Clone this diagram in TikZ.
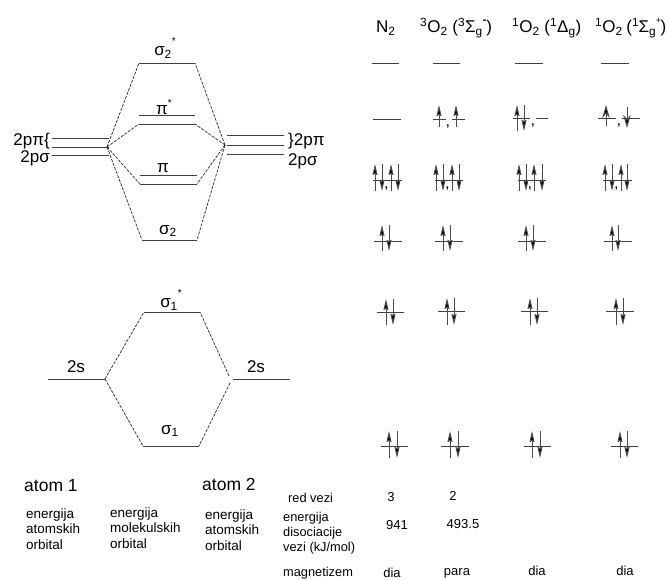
\documentclass[tikz,border=0pt]{standalone}
\usepackage{fontspec}
\setmainfont{Liberation Sans}
\usetikzlibrary{arrows.meta}
\definecolor{lv}{gray}{0.25}
\newcommand{\fs}[1]{\fontsize{#1}{#1}\selectfont}
\newcommand{\sbs}[1]{\textsubscript{#1}}
\newcommand{\sps}[1]{\textsuperscript{#1}}
\tikzset{
  x=1pt,y=-1pt,
  lvline/.style={draw=lv,line width=1pt},
  linkline/.style={draw=black!85,line width=.7pt,dash pattern=on 3pt off 1.3pt},
  spin/.style={draw=black!70,line width=1pt,-{Stealth[length=11pt,width=5pt,inset=1pt,fill=black]}},
  spinbig/.style={draw=black!70,line width=1pt,-{Stealth[length=13pt,width=7.5pt,fill=black]}},
  labtext/.style={inner sep=0pt,font=\fs{17}},
  multi/.style={inner sep=0pt,anchor=west,align=left,font=\fontsize{13.5}{15.8}\selectfont},
  multismall/.style={inner sep=0pt,anchor=west,align=left,font=\fontsize{12.8}{15}\selectfont},
  txtnode/.style={inner sep=0pt,font=\fs{12.8},anchor=west},
  valtext/.style={inner sep=0pt,font=\fs{13}},
  bigtext/.style={inner sep=0pt,font=\fs{17.5},anchor=west},
  headtext/.style={inner sep=0pt,font=\fs{17},anchor=west},
  commark/.style={inner sep=0pt,font=\bfseries\fs{11}}
}
% level: name, x1, x2, y
\newcommand{\lvl}[4]{\coordinate (#1l) at (#2,#4);\coordinate (#1r) at (#3,#4);\draw[lvline] (#1l) -- (#1r);}
% pair of arrows on a level: up x, down x, y top, y bottom
\newcommand{\pairud}[5]{%
 \coordinate (#1ua) at (#2,#5);\coordinate (#1ub) at (#2,#4);
 \coordinate (#1da) at (#3,#4);\coordinate (#1db) at (#3,#5);
 \draw[spin] (#1ua) -- (#1ub);\draw[spin] (#1da) -- (#1db);}
\newcommand{\rowthree}[7]{% name,x1,x2,u1,d1,u2,d2 at y=180
 \lvl{#1}{#2}{#3}{180}\pairud{#1a}{#4}{#5}{164}{191}\pairud{#1b}{#6}{#7}{164}{191}
 \node[commark] (#1c) at ({(#5+#6)/2},189) {,};}
\begin{document}
\begin{tikzpicture}
\useasboundingbox (0,0) rectangle (669,579);
% MO diagram upper
\lvl{ss}{139}{195}{63}
\lvl{pa}{139}{195}{115}
\lvl{pb}{139}{195}{124}
\lvl{pc}{140}{197}{175}
\lvl{pd}{140}{197}{184}
\lvl{sb}{142}{197}{240}
\lvl{la}{52}{109}{138}
\lvl{lb}{52}{109}{147}
\lvl{lc}{52}{109}{155}
\lvl{ra}{227}{284}{135}
\lvl{rb}{227}{284}{145}
\lvl{rc}{227}{284}{154}
\coordinate (lh) at (107,147);
\coordinate (rh) at (225,145);
\draw[linkline] (lh) -- (ssl);
\draw[linkline] (rh) -- (ssr);
\draw[linkline] (lh) -- (pbl);
\draw[linkline] (rh) -- (pbr);
\draw[linkline] (lh) -- (pdl);
\draw[linkline] (rh) -- (pdr);
\draw[linkline] (lh) -- (sbl);
\draw[linkline] (rh) -- (sbr);
\node[labtext] (tss) at (165,48) {σ\sbs{2}\raisebox{.65em}{\fs{10}*}};
\node[labtext] (tpa) at (164,107) {π\raisebox{.45em}{\fs{10}*}};
\node[labtext] (tpc) at (163,168) {π};
\node[labtext] (tsb) at (168,231) {σ\sbs{2}};
\node[inner sep=0pt,font=\fs{17},anchor=east] (t2l) at (50,141) {2pπ\{};
\node[inner sep=0pt,font=\fs{17},anchor=east] (t2s) at (50,158) {2pσ};
\node[inner sep=0pt,font=\fs{17},anchor=west] (t2r) at (288,141) {\}2pπ};
\node[inner sep=0pt,font=\fs{17},anchor=west] (t2q) at (288,161) {2pσ};
% MO diagram lower
\lvl{sa}{144}{200}{312}
\lvl{so}{143}{199}{446}
\lvl{ls}{48}{105}{379}
\lvl{rs}{233}{290}{379}
\coordinate (rsu) at (229,376);
\coordinate (rsd) at (230,383);
\draw[linkline] (lsr) -- (sal);
\draw[linkline] (lsr) -- (sol);
\draw[linkline] (rsu) -- (sar);
\draw[linkline] (rsd) -- (sor);
\node[labtext] (tsa) at (171,300) {σ\sbs{1}\raisebox{.65em}{\fs{10}*}};
\node[labtext] (tso) at (170,431) {σ\sbs{1}};
\node[inner sep=0pt,font=\fs{17}] (t2sl) at (76,367) {2s};
\node[inner sep=0pt,font=\fs{17}] (t2sr) at (256,367) {2s};
% headers
\node[headtext] (h1) at (376,28) {N\sbs{2}};
\node[headtext] (h2) at (420,28) {\sps{3}O\sbs{2} (\sps{3}Σ\sbs{g}\raisebox{.55em}{\fs{11}\bfseries -})};
\node[headtext] (h3) at (512,28) {\sps{1}O\sbs{2} (\sps{1}Δ\sbs{g})};
\node[headtext] (h4) at (595,28) {\sps{1}O\sbs{2}\hspace{-1pt} (\sps{1}\hspace{-.5pt}Σ\sbs{g}\hspace{-.5pt}\raisebox{.55em}{\fs{9}+}\hspace{-.5pt})};
% row 1
\lvl{aa}{372}{399}{63}\lvl{ab}{433}{460}{63}\lvl{ac}{515}{543}{63}\lvl{ad}{601}{629}{63}
% row 2
\lvl{ba}{373}{401}{119}
\lvl{bb}{433}{446}{119}\lvl{bc}{452}{465}{119}
\draw[spin] (439,127) coordinate (u1) -- (439,105) coordinate (u2);
\draw[spin] (456,127) coordinate (u3) -- (456,105) coordinate (u4);
\node[commark] (cb) at (448,127) {,};
\lvl{bd}{513}{530}{118}\lvl{be}{536}{548}{118}
\pairud{bf}{517}{524}{105}{131}
\node[commark] (ce) at (533,126) {,};
\lvl{bg}{598}{616}{118}\lvl{bh}{622}{640}{118}
\draw[spinbig] (606,126) coordinate (u5) -- (606,105) coordinate (u6);
\draw[spinbig] (627,107) coordinate (u7) -- (627,128) coordinate (u8);
\node[commark] (ch) at (619,126) {,};
% row 3
\rowthree{ca}{373}{402}{375}{382}{391}{398}
\rowthree{cc}{435}{463}{436}{443}{452}{459}
\rowthree{cd}{518}{546}{519}{526}{534}{542}
\rowthree{cf}{603}{632}{605}{612}{621}{627}
% row 4
\lvl{da}{374}{402}{241}\pairud{dap}{382}{389}{225}{251}
\lvl{db}{435}{463}{241}\pairud{dbp}{443}{450}{225}{251}
\lvl{dc}{518}{546}{241}\pairud{dcp}{526}{533}{225}{251}
\lvl{dd}{604}{632}{241}\pairud{ddp}{612}{618}{225}{251}
% row 5
\lvl{ea}{377}{404}{312}\pairud{eap}{386}{393}{299}{325}
\lvl{eb}{438}{465}{311}\pairud{ebp}{447}{454}{298}{325}
\lvl{ec}{521}{548}{311}\pairud{ecp}{530}{537}{298}{325}
\lvl{ed}{606}{634}{311}\pairud{edp}{616}{623}{298}{325}
% row 6
\lvl{fa}{381}{408}{446}\pairud{fap}{389}{397}{431}{458}
\lvl{fb}{441}{469}{446}\pairud{fbp}{450}{458}{431}{458}
\lvl{fc}{524}{551}{446}\pairud{fcp}{532}{540}{431}{458}
\lvl{fd}{611}{638}{446}\pairud{fdp}{620}{627}{431}{458}
% bottom text
\node[bigtext] (at1) at (24,486) {atom 1};
\node[bigtext] (at2) at (202,484) {atom 2};
\node[multi] (e1) at (26,529) {energija\\atomskih\\orbital};
\node[multi] (e2) at (110,528) {energija\\molekulskih\\orbital};
\node[multi] (e3) at (205,530) {energija\\atomskih\\orbital};
\node[txtnode] (rv) at (288,498) {red vezi};
\node[multismall] (ed) at (283,533) {energija\\disociacije\\vezi (kJ/mol)};
\node[txtnode] (mg) at (283,573) {magnetizem};
\node[valtext] (r3) at (391,497) {3};
\node[valtext] (r2) at (453,496) {2};
\node[valtext] (d1) at (397,525) {941};
\node[valtext] (d2) at (463,524) {493.5};
\node[valtext] (m1) at (392,573) {dia};
\node[valtext] (m2) at (457,573) {para};
\node[valtext] (m3) at (537,571) {dia};
\node[valtext] (m4) at (625,571) {dia};
\end{tikzpicture}
\end{document}
